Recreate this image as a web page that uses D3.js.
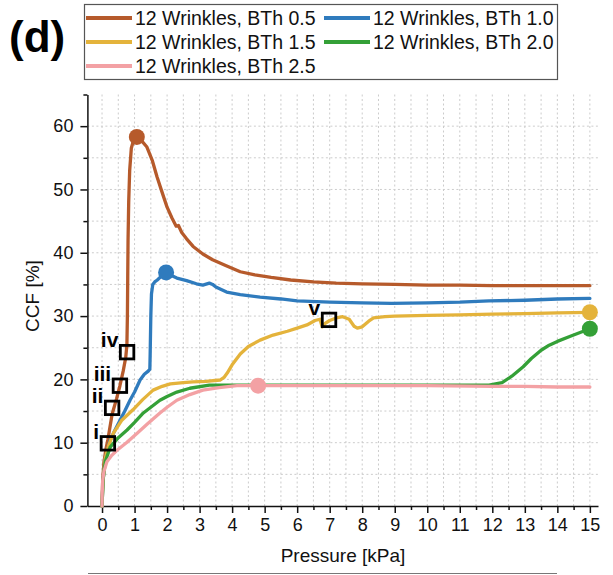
<!DOCTYPE html>
<html>
<head>
<meta charset="utf-8">
<script src="https://cdn.jsdelivr.net/npm/d3@7"></script>
<style>
  html, body { margin: 0; padding: 0; background: #fff; }
  svg { display: block; font-family: "Liberation Sans", Arial, sans-serif; }
</style>
</head>
<body>
<svg id="chart" width="613" height="575"></svg>
<script>
// Pressure (kPa) / CCF (%) traces for the five wrinkle configurations
const bth05X = [0,0.02,0.06,0.12,0.18,0.31,0.45,0.55,0.65,0.73,0.765,0.78,0.79,0.80,0.82,0.85,0.9,0.97,1.07,1.2,1.38,1.55,1.69,1.85,2.0,2.15,2.28,2.35,2.45,2.6,2.8,3.1,3.4,3.8,4.25,4.7,5.2,5.8,6.5,7.2,8.0,9.0,10,11,12,13,14,15];
const bth05Y = [0,4,7,9,10.5,14.5,17,19,21.3,23.5,25.5,30,36,42,48,53,56.5,57.8,58.3,57.8,56.7,54.5,52,49.5,47.2,45.5,44.2,44.3,43.2,42.2,41,39.8,38.9,38,37,36.5,36.1,35.7,35.4,35.2,35.1,35,34.9,34.9,34.8,34.8,34.8,34.8];

const bth10X = [0,0.03,0.1,0.25,0.4,0.55,0.7,0.86,1.0,1.17,1.3,1.42,1.47,1.48,1.5,1.52,1.56,1.62,1.7,1.8,1.9,1.97,2.1,2.3,2.6,2.9,3.1,3.3,3.4,3.5,3.83,4.25,4.86,5.5,6.0,7,8,8.9,10,11,11.9,13,14,15];
const bth10Y = [0,4,7.5,10.4,12,13.5,15,16.7,18,19.9,20.8,21.3,21.6,24,30,33.5,35,35.4,35.7,36.2,36.7,36.9,36.5,36,35.6,35.1,34.9,35.2,35.0,34.6,33.8,33.4,33,32.7,32.4,32.2,32.1,32.0,32.1,32.2,32.4,32.5,32.7,32.8];

const bth15X = [0,0.03,0.1,0.2,0.35,0.6,0.95,1.25,1.57,1.85,2.1,2.5,2.8,3.2,3.63,3.75,3.85,4.0,4.25,4.5,4.86,5.26,5.7,6.0,6.3,6.55,6.7,6.77,6.85,7.0,7.2,7.4,7.6,7.75,7.85,8.0,8.2,8.35,8.7,9,10,11,12,13,14,15];
const bth15Y = [0,4,7.5,9.5,11.5,13.5,15.2,16.8,18.3,18.9,19.3,19.5,19.6,19.7,19.9,20.3,21,22.3,24,25.2,26.2,27,27.6,28.1,28.6,29.3,29.5,28.3,28.8,29.3,29.7,29.9,29.5,28.4,28.1,28.3,29.2,29.7,29.9,30.0,30.1,30.2,30.3,30.4,30.5,30.6];

const bth20X = [0,0.03,0.1,0.25,0.5,0.77,1.0,1.27,1.5,1.78,2.0,2.3,2.7,3.3,4,5,6,8,10,11,11.9,12.3,12.6,12.95,13.2,13.5,13.75,14,14.4,14.7,15];
const bth20Y = [0,4,7,9.3,10.8,12,13.2,14.7,15.6,16.7,17.3,18,18.6,19.1,19.1,19.1,19.1,19.1,19.1,19.1,19.1,19.5,20.5,22,23.3,24.6,25.4,26,26.8,27.4,28];

const bth25X = [0,0.005,0.02,0.06,0.15,0.3,0.46,0.75,1.08,1.4,1.78,2.0,2.3,2.7,3.1,3.6,4.15,4.8,6,8,10,12,13,14,15];
const bth25Y = [0,2,4,5.5,7,8,8.8,10,11.5,13,14.7,15.6,16.7,17.6,18.3,18.7,19,19,19,19,19,18.9,18.9,18.8,18.8];

const seriesNames = ["12 Wrinkles, BTh 0.5","12 Wrinkles, BTh 1.0","12 Wrinkles, BTh 1.5","12 Wrinkles, BTh 2.0","12 Wrinkles, BTh 2.5"];
const seriesColors = ["#b65a2b","#2f7bbd","#e4b33b","#34a037","#f3a1a4"];

// highlighted end / peak points of each trace
const dotX = [1.07, 1.97, 15, 15, 4.8];
const dotY = [58.3, 36.9, 30.6, 28.0, 19.0];

// annotated states along the traces
const stateLabels = ["i","ii","iii","iv","v"];
const stateX = [0.18, 0.31, 0.55, 0.77, 6.98];
const stateY = [9.9, 15.5, 19.0, 24.3, 29.4];

const xMajor = d3.range(0, 16, 1);
const xMinor = d3.range(0.5, 15.5, 1);
const yMajor = [0,10,20,30,40,50,60];
const yMinor = [5,15,25,35,45,55,65];
const xGrid = d3.range(0, 15.01, 0.5);
const yGrid = d3.range(5, 61, 5);

const series = [
  {x: bth05X, y: bth05Y},
  {x: bth10X, y: bth10Y},
  {x: bth15X, y: bth15Y},
  {x: bth20X, y: bth20Y},
  {x: bth25X, y: bth25Y}
].map((s, i) => ({name: seriesNames[i], color: seriesColors[i],
  pts: s.x.map((v, j) => [v, s.y[j]])}));

const svg = d3.select("#chart");
const x = d3.scaleLinear().domain([-0.45, 15.25]).range([87.4, 598]);
const y = d3.scaleLinear().domain([0, 65]).range([506, 94.5]);

// dashed grid
const grid = svg.append("g").attr("stroke", "#cccccc").attr("stroke-width", 1)
  .attr("stroke-dasharray", "2,2.5");
grid.selectAll("line.v").data(xGrid).join("line").attr("class", "v")
  .attr("x1", d => x(d)).attr("x2", d => x(d)).attr("y1", y(65)).attr("y2", y(0));
grid.selectAll("line.h").data(yGrid).join("line").attr("class", "h")
  .attr("x1", x(-0.45)).attr("x2", x(15.25)).attr("y1", d => y(d)).attr("y2", d => y(d));

// axes
svg.append("g").attr("transform", `translate(0,${y(0)})`)
  .call(d3.axisBottom(x).tickValues(xMajor).tickSize(7).tickSizeOuter(0).tickPadding(5).tickFormat(d3.format("d")));
svg.append("g").attr("transform", `translate(0,${y(0)})`)
  .call(d3.axisBottom(x).tickValues(xMinor).tickSize(4).tickSizeOuter(0).tickFormat(""))
  .select(".domain").remove();
svg.append("g").attr("transform", `translate(${x(-0.45)},0)`)
  .call(d3.axisLeft(y).tickValues(yMajor).tickSize(7).tickSizeOuter(0).tickPadding(7).tickFormat(d3.format("d")));
svg.append("g").attr("transform", `translate(${x(-0.45)},0)`)
  .call(d3.axisLeft(y).tickValues(yMinor).tickSize(4).tickSizeOuter(0).tickFormat(""))
  .select(".domain").remove();
svg.selectAll(".domain, .tick line").attr("stroke", "#111").attr("stroke-width", 1.5);
svg.selectAll(".tick text").attr("font-size", 18).attr("fill", "#111")
  .attr("font-family", "Liberation Sans, Arial, sans-serif");

// axis titles
svg.append("text").attr("x", 343).attr("y", 562).attr("text-anchor", "middle")
  .attr("font-size", 19).attr("fill", "#111").text("Pressure [kPa]");
svg.append("text").attr("transform", "translate(39,296) rotate(-90)").attr("text-anchor", "middle")
  .attr("font-size", 19).attr("fill", "#111").text("CCF [%]");

// traces, pink drawn last so it sits on top of the shared plateau
const line = d3.line().x(d => x(d[0])).y(d => y(d[1]));
svg.append("g").selectAll("path").data(series).join("path")
  .attr("d", d => line(d.pts)).attr("fill", "none")
  .attr("stroke", d => d.color).attr("stroke-width", 3.3)
  .attr("stroke-linejoin", "round").attr("stroke-linecap", "round");

svg.append("g").selectAll("circle").data(dotX).join("circle")
  .attr("cx", d => x(d)).attr("cy", (d, i) => y(dotY[i])).attr("r", 8)
  .attr("fill", (d, i) => seriesColors[i]);

// state markers
const side = 13.5;
const st = svg.append("g");
st.selectAll("rect").data(stateX).join("rect")
  .attr("x", d => x(d) - side / 2).attr("y", (d, i) => y(stateY[i]) - side / 2)
  .attr("width", side).attr("height", side)
  .attr("fill", "none").attr("stroke", "#000").attr("stroke-width", 2.8);
st.selectAll("text").data(stateX).join("text")
  .attr("x", d => x(d) - side / 2 - 2).attr("y", (d, i) => y(stateY[i]) - side / 2 + 2)
  .attr("text-anchor", "end").attr("font-size", 21).attr("font-weight", "bold").attr("fill", "#000")
  .text((d, i) => stateLabels[i]);

// panel letter
svg.append("text").attr("x", 9).attr("y", 52).attr("font-size", 44).attr("font-weight", "bold")
  .attr("font-family", "Liberation Sans, Arial, sans-serif").attr("fill", "#000").text("(d)");

// legend
const lg = svg.append("g");
lg.append("rect").attr("x", 84.5).attr("y", 4.5).attr("width", 473).attr("height", 75)
  .attr("fill", "#fff").attr("stroke", "#555").attr("stroke-width", 1.2);
const legendPos = [[86, 18], [324, 18], [86, 42], [324, 42], [86, 66]];
const li = lg.selectAll("g").data(series).join("g")
  .attr("transform", (d, i) => `translate(${legendPos[i][0]},${legendPos[i][1]})`);
li.append("line").attr("x1", 0).attr("x2", 46).attr("stroke", d => d.color).attr("stroke-width", 4);
li.append("text").attr("x", 49).attr("y", 7).attr("font-size", 19.5).attr("fill", "#111").text(d => d.name);

// top edge of the next panel's legend
svg.append("line").attr("x1", 88).attr("x2", 557).attr("y1", 573.5).attr("y2", 573.5)
  .attr("stroke", "#777").attr("stroke-width", 1.2);
</script>
</body>
</html>
